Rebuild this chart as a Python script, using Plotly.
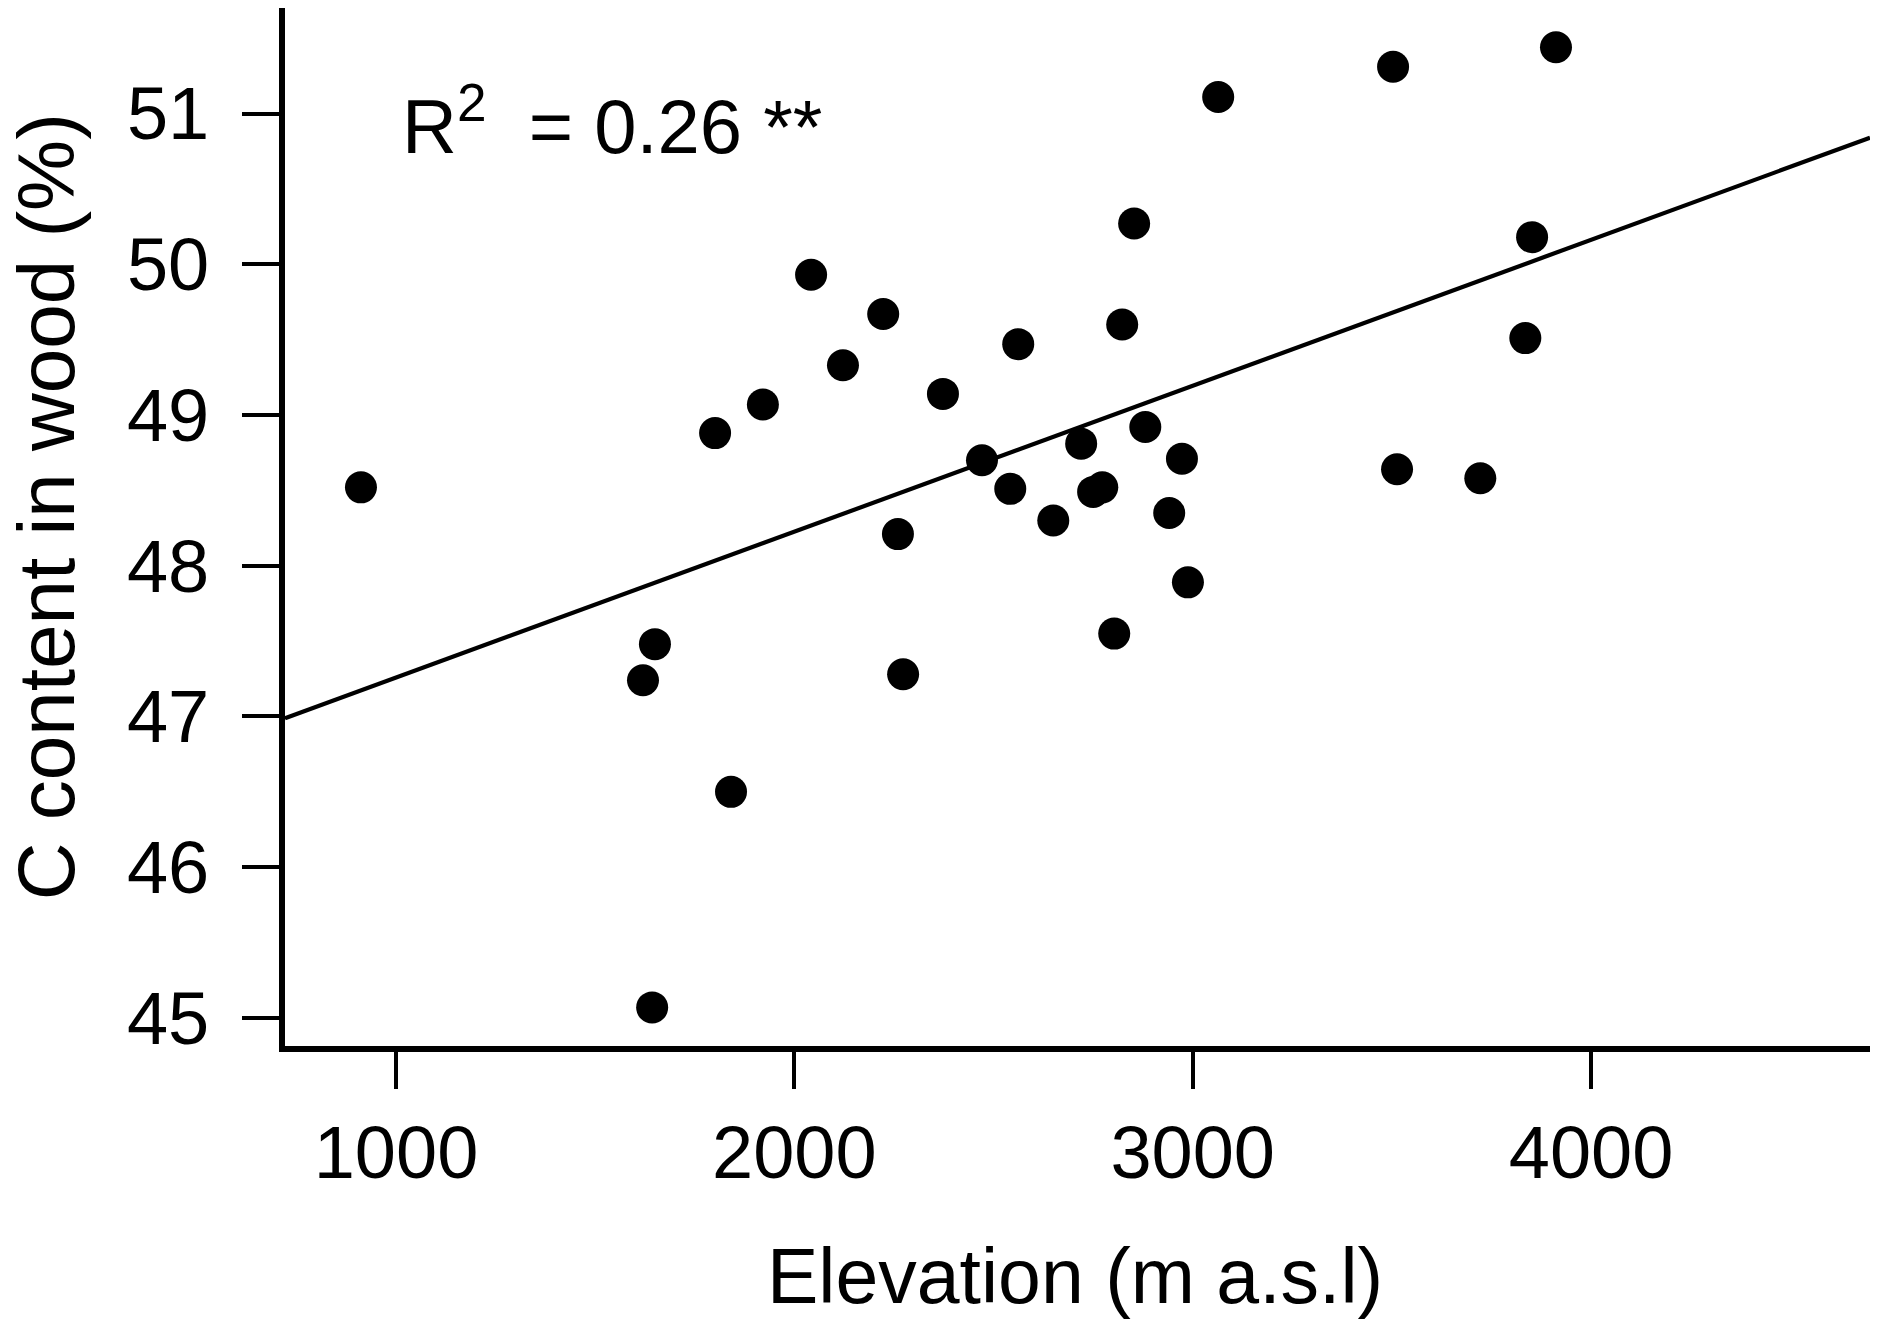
import plotly.graph_objects as go

# Elevation (m a.s.l.) and wood carbon content (%)
elevation = [912, 1620, 1650, 1643, 1801, 1841, 1921, 2042, 2122, 2223,
             2260, 2273, 2373, 2471, 2542, 2562, 2650, 2720, 2750, 2773,
             2803, 2823, 2853, 2881, 2941, 2973, 2988, 3064, 3503, 3513,
             3722, 3835, 3852, 3912]
c_content = [48.52, 47.24, 47.48, 45.07, 48.88, 46.50, 49.07, 49.93, 49.33, 49.67,
             48.21, 47.28, 49.14, 48.70, 48.51, 49.47, 48.30, 48.81, 48.49, 48.52,
             47.55, 49.60, 50.27, 48.92, 48.35, 48.71, 47.89, 51.11, 51.31, 48.64,
             48.58, 49.51, 50.18, 51.44]

# Regression line as drawn
fit_intercept = 46.29
fit_slope = 0.000968

x_range = [721.3, 4700.3]
y_range = [44.814, 51.70]
x_ticks = [1000, 2000, 3000, 4000]
y_ticks = [45, 46, 47, 48, 49, 50, 51]

FONT = "Liberation Sans, Arial, sans-serif"

fit_x = x_range
fit_y = [fit_intercept + fit_slope * v for v in fit_x]

fig = go.Figure()
fig.add_trace(go.Scatter(
    x=fit_x, y=fit_y, mode="lines",
    line=dict(color="black", width=4.2),
    showlegend=False, hoverinfo="skip",
))
fig.add_trace(go.Scatter(
    x=elevation, y=c_content, mode="markers",
    marker=dict(color="black", size=32, line=dict(width=0)),
    showlegend=False,
))

fig.add_annotation(
    x=1010, y=50.95, xref="x", yref="y", xanchor="left", yanchor="middle",
    text="R<sup>2</sup>  = 0.26 **", showarrow=False,
    font=dict(family=FONT, size=76, color="black"),
)
# axis titles
fig.add_annotation(
    x=0.4984, y=-0.2216, xref="paper", yref="paper", xanchor="center", yanchor="middle",
    text="Elevation (m a.s.l)", showarrow=False,
    font=dict(family=FONT, size=77, color="black"),
)
fig.add_annotation(
    x=-0.1508, y=0.520, xref="paper", yref="paper", xanchor="center", yanchor="middle",
    text="C content in wood (%)", showarrow=False, textangle=-90,
    font=dict(family=FONT, size=80, color="black"),
)

fig.update_layout(
    width=1880, height=1329,
    margin=dict(l=277, r=18, t=0, b=291),
    plot_bgcolor="white", paper_bgcolor="white",
    font=dict(family=FONT, color="black"),
)
fig.update_xaxes(
    range=x_range, tickvals=x_ticks, ticktext=[str(v) for v in x_ticks],
    showgrid=False, zeroline=False,
    showline=True, linecolor="black", linewidth=6,
    ticks="outside", ticklen=37, tickwidth=4, tickcolor="black",
    tickfont=dict(family=FONT, size=74, color="black"),
    ticklabelstandoff=0,
)
fig.update_yaxes(
    range=y_range, tickvals=y_ticks, ticktext=[str(v) for v in y_ticks],
    showgrid=False, zeroline=False,
    showline=True, linecolor="black", linewidth=6,
    ticks="outside", ticklen=37, tickwidth=4, tickcolor="black",
    tickfont=dict(family=FONT, size=74, color="black"),
    ticklabelstandoff=18,
)

fig.write_html("out.html")
